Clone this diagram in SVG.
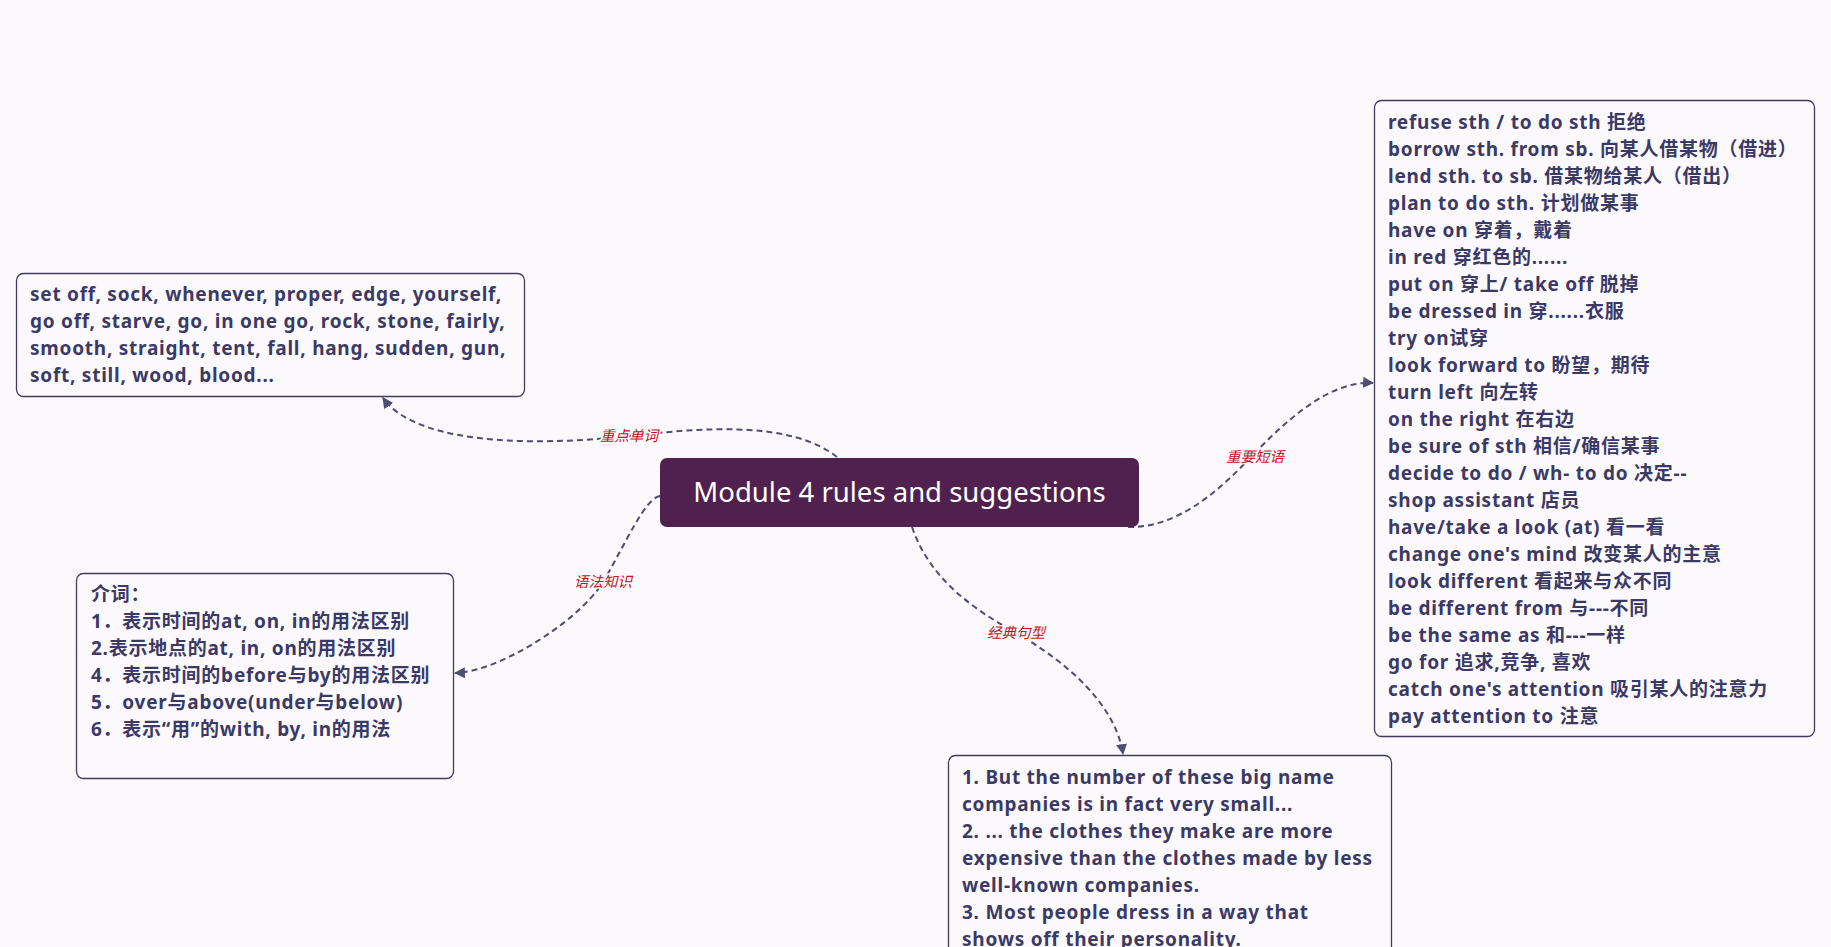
<svg xmlns="http://www.w3.org/2000/svg" width="1831" height="947" viewBox="0 0 1831 947">
<defs>
<style>
.bg{fill:#fcf9fc}
.box{fill:#fcf9fc;stroke:#3e3d60;stroke-width:1.3}
.t{font-family:"Noto Sans","Noto Sans CJK SC",sans-serif;font-weight:700;font-size:19px;letter-spacing:0.75px;fill:#3b3966}
.title{font-family:"Noto Sans","Noto Sans CJK SC",sans-serif;font-size:27.5px;fill:#ffffff}
.conn{fill:none;stroke:#4e4d72;stroke-width:2;stroke-dasharray:6 4}
.lbl{font-family:"Noto Sans CJK SC",sans-serif;font-style:italic;font-size:14.5px;fill:#c0121c;stroke:#fcf9fc;stroke-width:3;paint-order:stroke;text-anchor:middle}
</style>
<marker id="arr" viewBox="0 0 10 10" refX="9" refY="5" markerWidth="5.5" markerHeight="5.5" orient="auto" markerUnits="strokeWidth">
<path d="M0,0 L10,5 L0,10 Z" fill="#4e4d72"/>
</marker>
</defs>
<rect class="bg" x="0" y="0" width="1831" height="947"/>
<g id="connectors">
<path class="conn" d="M837,457 C790,420 700,428 629,436 S420,450 383,398" marker-end="url(#arr)"/>
<path class="conn" d="M660,496 C645,498 625,545 603,582 S500,672 455,673" marker-end="url(#arr)"/>
<path class="conn" d="M912,527 C930,580 975,610 1016,633 S1115,700 1123,754" marker-end="url(#arr)"/>
<path class="conn" d="M1128,527 C1175,528 1215,495 1250,458 S1330,380 1373,383" marker-end="url(#arr)"/>
<text class="lbl" x="629" y="441">重点单词</text>
<text class="lbl" x="603" y="587">语法知识</text>
<text class="lbl" x="1016" y="638">经典句型</text>
<text class="lbl" x="1255" y="462">重要短语</text>
</g>
<g id="center">
<rect x="660" y="458" width="479" height="69" rx="7" fill="#50214f"/>
<text class="title" x="899.5" y="502" text-anchor="middle">Module 4 rules and suggestions</text>
</g>
<g id="words">
<rect class="box" x="16.5" y="273.5" width="508" height="123" rx="7"/>
<text class="t">
<tspan x="30" y="301">set off, sock, whenever, proper, edge, yourself,</tspan>
<tspan x="30" y="328">go off, starve, go, in one go, rock, stone, fairly,</tspan>
<tspan x="30" y="355">smooth, straight, tent, fall, hang, sudden, gun,</tspan>
<tspan x="30" y="382">soft, still, wood, blood...</tspan>
</text>
</g>
<g id="grammar">
<rect class="box" x="76.5" y="573.5" width="377" height="205" rx="7"/>
<text class="t">
<tspan x="91" y="601">介词：</tspan>
<tspan x="91" y="628">1．表示时间的at, on, in的用法区别</tspan>
<tspan x="91" y="655">2.表示地点的at, in, on的用法区别</tspan>
<tspan x="91" y="682">4．表示时间的before与by的用法区别</tspan>
<tspan x="91" y="709">5．over与above(under与below)</tspan>
<tspan x="91" y="736">6．表示“用”的with, by, in的用法</tspan>
</text>
</g>
<g id="sentences">
<rect class="box" x="948.5" y="755.5" width="443" height="210" rx="7"/>
<text class="t">
<tspan x="962" y="784">1. But the number of these big name</tspan>
<tspan x="962" y="811">companies is in fact very small...</tspan>
<tspan x="962" y="838">2. ... the clothes they make are more</tspan>
<tspan x="962" y="865">expensive than the clothes made by less</tspan>
<tspan x="962" y="892">well-known companies.</tspan>
<tspan x="962" y="919">3. Most people dress in a way that</tspan>
<tspan x="962" y="946">shows off their personality.</tspan>
</text>
</g>
<g id="phrases">
<rect class="box" x="1374.5" y="100.5" width="440" height="636" rx="7"/>
<text class="t">
<tspan x="1388" y="129">refuse sth / to do sth 拒绝</tspan>
<tspan x="1388" y="156">borrow sth. from sb. 向某人借某物（借进）</tspan>
<tspan x="1388" y="183">lend sth. to sb. 借某物给某人（借出）</tspan>
<tspan x="1388" y="210">plan to do sth. 计划做某事</tspan>
<tspan x="1388" y="237">have on 穿着，戴着</tspan>
<tspan x="1388" y="264">in red 穿红色的......</tspan>
<tspan x="1388" y="291">put on 穿上/ take off 脱掉</tspan>
<tspan x="1388" y="318">be dressed in 穿......衣服</tspan>
<tspan x="1388" y="345">try on试穿</tspan>
<tspan x="1388" y="372">look forward to 盼望，期待</tspan>
<tspan x="1388" y="399">turn left 向左转</tspan>
<tspan x="1388" y="426">on the right 在右边</tspan>
<tspan x="1388" y="453">be sure of sth 相信/确信某事</tspan>
<tspan x="1388" y="480">decide to do / wh- to do 决定--</tspan>
<tspan x="1388" y="507">shop assistant 店员</tspan>
<tspan x="1388" y="534">have/take a look (at) 看一看</tspan>
<tspan x="1388" y="561">change one's mind 改变某人的主意</tspan>
<tspan x="1388" y="588">look different 看起来与众不同</tspan>
<tspan x="1388" y="615">be different from 与---不同</tspan>
<tspan x="1388" y="642">be the same as 和---一样</tspan>
<tspan x="1388" y="669">go for 追求,竞争, 喜欢</tspan>
<tspan x="1388" y="696">catch one's attention 吸引某人的注意力</tspan>
<tspan x="1388" y="723">pay attention to 注意</tspan>
</text>
</g>
</svg>
